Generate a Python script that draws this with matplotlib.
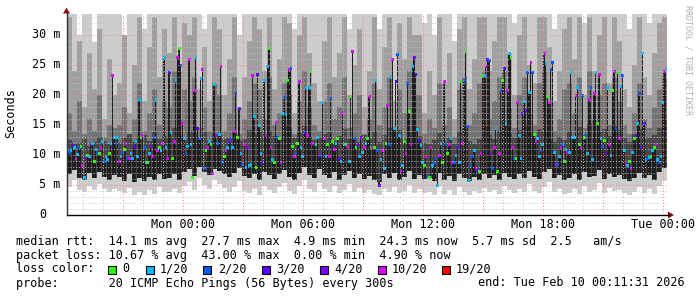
import numpy as np
from matplotlib import pyplot as plt
from matplotlib.patches import Rectangle, Polygon

# median rtt [ms], one value per 5 minute step (last 30 hours)
median_ms = [
    11.0, 10.5, 10.8, 11.7, 11.3, 9.2, 10.1, 11.2, 11.5, 8.3, 6.2, 9.5, 9.9, 9.8,
    11.7, 12.0, 9.0, 11.0, 10.2, 10.3, 11.3, 12.3, 8.9, 9.7, 9.2, 10.2, 11.9, 23.3,
    13.0, 12.0, 13.0, 9.0, 9.7, 10.4, 11.0, 12.0, 9.5, 9.5, 10.3, 9.4, 11.5, 12.3,
    9.7, 19.3, 13.0, 13.2, 11.2, 8.8, 8.7, 10.2, 11.5, 9.8, 13.0, 19.2, 10.8, 11.3,
    10.7, 12.0, 26.2, 11.3, 9.5, 23.7, 13.8, 9.5, 12.3, 22.5, 26.3, 27.7, 25.0, 15.3, 12.8,
    # Mon 00:00 - 06:00
    10.3, 11.5, 26.0, 11.7, 6.2, 20.8, 26.2, 14.5, 12.7, 22.7, 24.2, 7.7,
    10.7, 11.3, 12.3, 11.8, 7.0, 21.8, 13.3, 12.0, 13.5, 24.8, 8.7, 9.7,
    10.7, 11.3, 12.2, 12.8, 11.2, 14.0, 20.2, 13.0, 17.8, 10.2, 8.5, 11.7,
    8.0, 11.2, 8.3, 8.5, 23.2, 16.5, 8.0, 23.5, 15.0, 10.3, 8.8, 22.5,
    13.2, 24.7, 27.7, 11.3, 9.2, 8.8, 15.5, 13.0, 12.7, 8.8, 17.0, 19.7,
    16.8, 22.5, 24.2, 24.5, 11.5, 9.7, 10.3, 12.0, 22.3, 11.3, 9.8, 13.7,
    # Mon 06:00 - 12:00
    21.3, 13.3, 21.3, 24.0, 12.0, 11.7, 11.8, 13.0, 10.0, 10.0, 18.7, 12.8,
    9.8, 11.7, 9.7, 19.5, 12.2, 11.0, 12.0, 12.8, 9.5, 9.0, 17.0, 11.8,
    11.8, 11.5, 9.0, 19.8, 27.2, 12.8, 11.3, 11.7, 9.7, 13.0, 10.5, 11.3,
    12.0, 12.7, 19.8, 11.3, 11.3, 11.3, 22.5, 10.8, 4.9, 9.3, 10.7, 7.7,
    12.0, 18.3, 11.8, 23.0, 26.0, 14.5, 22.3, 26.8, 13.3, 7.2, 8.3, 12.3,
    10.3, 22.0, 17.2, 11.8, 24.8, 26.3, 23.5, 14.2, 12.5, 11.6, 8.7, 8.2,
    # Mon 12:00 - 18:00
    9.8, 6.5, 6.2, 11.3, 8.3, 8.8, 9.5, 5.0, 10.0, 12.0, 8.7, 22.3,
    11.8, 10.3, 11.7, 12.8, 8.7, 8.7, 10.0, 11.3, 8.7, 22.2, 12.0, 22.5,
    27.2, 14.8, 5.7, 8.2, 9.7, 10.8, 7.8, 7.5, 7.3, 10.3, 23.2, 23.2,
    24.7, 26.0, 25.8, 10.3, 7.7, 11.3, 14.5, 7.2, 10.2, 20.7, 22.5, 24.5,
    15.3, 20.7, 27.0, 26.3, 11.3, 9.5, 9.5, 18.7, 13.2, 9.5, 17.0, 19.0,
    17.5, 23.7, 20.5, 25.5, 23.7, 13.5, 12.3, 12.8, 9.8, 10.7, 11.7, 27.0,
    # Mon 18:00 - Tue 00:11
    25.2, 19.7, 18.8, 24.2, 25.5, 10.5, 8.2, 8.5, 9.8, 11.2, 11.8, 9.0, 10.9,
    10.5, 10.5, 23.7, 13.0, 13.0, 20.0, 21.3, 11.8, 11.2, 20.0, 13.0, 13.2,
    10.2, 19.2, 21.2, 9.3, 20.2, 23.8, 15.3, 23.5, 12.8, 11.5, 12.4, 10.3, 21.2,
    11.7, 10.0, 20.8, 24.0, 14.5, 23.8, 12.7, 21.5, 23.2, 10.7, 8.5, 8.2,
    9.0, 7.7, 10.5, 12.8, 13.3, 15.3, 20.2, 11.3, 27.0, 15.2, 9.2, 9.5, 9.6,
    9.7, 10.8, 11.2, 11.7, 9.3, 8.7, 9.8, 18.7, 24.0, 24.3,
]

# packet loss class per step: 0=0, 1=1/20, 2=2/20, 3=3/20, 4=4/20, 5=10/20
loss_idx = [
    1, 2, 1, 3, 1, 5, 1, 2, 0, 5, 1, 3, 0, 1,
    3, 1, 0, 1, 2, 0, 5, 1, 2, 1, 1, 0, 1, 5,
    1, 2, 1, 5, 1, 2, 0, 5, 2, 5, 1, 1, 3, 1,
    1, 1, 0, 5, 2, 1, 0, 1, 4, 5, 2, 1, 5, 0,
    1, 5, 1, 1, 5, 3, 1, 0, 5, 1, 5, 0, 2, 5, 1,
    2, 1, 5, 1, 0, 5, 1, 3, 2, 1, 5, 2,
    0, 5, 1, 0, 5, 1, 4, 2, 1, 5, 2, 0,
    5, 1, 3, 2, 1, 5, 2, 0, 3, 1, 2, 5,
    1, 4, 1, 1, 5, 1, 0, 3, 1, 1, 3, 1,
    5, 1, 0, 5, 1, 0, 5, 2, 0, 5, 1, 2,
    1, 0, 5, 2, 0, 5, 2, 0, 5, 1, 1, 3,
    1, 5, 1, 0, 5, 3, 0, 1, 4, 2, 1, 5,
    1, 0, 5, 2, 0, 5, 1, 0, 3, 1, 5, 1,
    0, 5, 1, 0, 5, 2, 0, 4, 1, 3, 1, 5,
    1, 0, 5, 0, 5, 0, 1, 2, 3, 1, 5, 1,
    0, 5, 2, 1, 5, 1, 3, 2, 1, 5, 1, 0,
    5, 2, 0, 5, 1, 4, 3, 1, 3, 1, 1, 0,
    5, 2, 0, 5, 1, 2, 2, 1, 5, 1, 0, 5,
    2, 0, 5, 1, 5, 2, 1, 3, 1, 0, 5, 2,
    0, 2, 1, 2, 2, 1, 5, 4, 0, 5, 0, 1,
    5, 3, 2, 4, 2, 5, 1, 0, 5, 2, 0, 3,
    1, 5, 1, 0, 5, 2, 0, 5, 1, 1, 3, 1,
    4, 2, 1, 5, 2, 0, 5, 1, 1, 2, 1, 5,
    1, 0, 5, 2, 2, 1, 5, 2, 1, 5, 2, 0, 1,
    5, 1, 1, 1, 1, 5, 1, 0, 5, 2, 0, 2,
    1, 5, 2, 1, 5, 1, 0, 5, 1, 2, 0, 3, 1,
    5, 1, 0, 5, 2, 0, 5, 1, 2, 1, 5, 1,
    0, 5, 1, 0, 3, 1, 2, 4, 1, 3, 1, 2, 1,
    0, 1, 0, 5, 1, 2, 1, 1, 5, 1,
]

# smoke, 15 minute columns [ms]: lowest ping, dark band, upper quartile, mid band top, highest ping
smoke_lo = [
    4.6, 5.8, 4.2, 3.9, 4.8, 4.1, 5.2, 4.4, 3.8, 4.3, 4.0, 3.6, 4.5, 3.4, 3.9, 3.3, 4.2, 3.5, 4.6, 3.8,
    3.9, 4.4, 3.6, 4.8, 5.5, 4.1, 6.2, 5.0, 4.3, 5.8, 5.2, 4.5, 3.9, 4.7, 5.6, 4.0, 3.6, 4.4, 3.4, 4.9,
    4.2, 3.7, 4.6, 5.3, 4.0, 3.5, 4.8, 5.9, 4.4, 3.9, 5.4, 4.3, 3.8, 4.9, 3.6, 4.2, 5.1, 3.9, 4.5, 3.7,
    4.1, 3.5, 3.3, 4.4, 3.8, 4.7, 3.6, 4.0, 5.0, 3.7, 4.3, 3.6, 3.9, 3.4, 4.8, 3.5, 4.1, 3.3, 4.6, 3.8,
    3.4, 4.0, 3.6, 4.5, 3.9, 4.2, 3.5, 4.8, 4.1, 3.7, 4.4, 3.9, 5.2, 4.0, 3.6, 4.7, 5.5, 3.8, 4.3, 3.5,
    3.7, 4.4, 3.5, 4.9, 3.8, 4.2, 5.3, 3.6, 4.5, 4.0, 4.1, 3.6, 3.4, 3.9, 4.6, 3.7, 4.3, 3.5, 4.8, 5.6,
]
smoke_dlo = [
    6.8, 7.5, 6.2, 5.9, 7.0, 6.1, 7.2, 6.4, 5.8, 6.6, 6.3, 5.7, 6.9, 5.5, 6.2, 5.6, 6.4, 5.9, 6.8, 6.0,
    6.2, 6.8, 5.9, 7.1, 7.6, 6.5, 8.0, 7.2, 6.6, 7.7, 7.4, 6.8, 6.3, 7.0, 7.9, 6.5, 6.1, 6.9, 5.8, 7.1,
    6.6, 6.0, 6.9, 7.5, 6.4, 5.9, 7.0, 8.0, 6.7, 6.2, 7.6, 6.7, 6.1, 7.2, 5.9, 6.6, 7.3, 6.2, 6.9, 6.0,
    6.5, 5.8, 5.5, 6.8, 6.1, 7.0, 5.9, 6.4, 7.3, 6.0, 6.7, 6.0, 6.2, 5.7, 7.0, 5.8, 6.5, 5.6, 6.9, 6.1,
    5.7, 6.3, 5.9, 6.8, 6.2, 6.6, 5.8, 7.0, 6.4, 6.0, 6.8, 6.2, 7.4, 6.4, 6.0, 7.1, 7.7, 6.1, 6.6, 5.9,
    6.1, 6.8, 5.8, 7.2, 6.3, 6.5, 7.5, 6.0, 6.9, 6.4, 6.6, 6.0, 5.7, 6.2, 7.0, 6.1, 6.7, 5.9, 7.1, 7.8,
]
smoke_dhi = [
    12.5, 11.8, 12.0, 12.6, 11.5, 12.2, 13.0, 12.4, 11.8, 12.8, 12.0, 12.8, 13.5, 12.2, 12.9, 13.3, 12.4, 13.8, 12.6, 13.1,
    13.0, 14.5, 13.2, 12.5, 14.0, 13.6, 12.8, 13.9, 12.4, 13.5, 13.4, 12.6, 12.9, 13.8, 12.3, 12.7, 14.2, 13.5, 14.0, 13.1,
    14.0, 13.2, 12.6, 15.0, 14.5, 12.9, 13.6, 14.8, 13.0, 12.5, 12.8, 13.5, 13.9, 12.4, 13.2, 14.4, 12.6, 13.0, 12.2, 13.4,
    12.6, 13.8, 12.1, 13.4, 14.5, 13.0, 14.2, 12.7, 13.9, 14.6, 13.2, 12.0, 11.8, 12.5, 13.6, 12.2, 12.9, 11.9, 13.8, 14.4,
    12.4, 11.9, 12.7, 14.8, 13.3, 12.6, 14.0, 15.2, 13.5, 12.8, 14.2, 15.0, 13.6, 12.8, 14.4, 13.9, 12.6, 12.2, 13.0, 12.5,
    13.8, 13.0, 14.6, 13.4, 15.2, 12.7, 13.9, 14.3, 13.1, 15.0, 14.1, 12.9, 12.2, 13.5, 14.3, 12.6, 12.9, 13.3, 14.5, 15.8,
]
smoke_q3 = [
    17, 14, 19, 13.5, 16, 14, 20, 13, 15, 14.5, 15, 18, 13.5, 16, 22, 14, 17, 21, 15, 19,
    18, 24, 16, 21, 19, 23, 14.5, 18, 14, 22, 20, 14, 17, 23, 13.5, 16, 19, 22, 21, 16,
    23, 15, 17, 22, 20, 13.5, 19, 24, 18, 15, 14, 19, 22, 16, 18, 23, 14.5, 17, 20, 13.5,
    16, 22, 15, 18, 23, 14, 21, 17, 24, 20, 20, 13.5, 16, 14.5, 22, 15, 18, 13, 21, 23,
    15, 17, 22, 24, 16, 19, 23, 24, 18, 14.5, 20, 23, 17, 15, 22, 24, 19, 14, 16, 21,
    22, 17, 23, 14.5, 24, 16, 20, 22, 15, 23, 19, 15, 13.5, 17, 22, 16, 14.5, 18, 21, 23,
]
smoke_mhi = [
    33, 24, 29, 18, 27, 21, 31, 16, 26, 20, 22, 30, 17, 25, 33, 19, 28, 33, 23, 31,
    27, 33, 24, 32, 30, 33, 21, 28, 19, 33, 31, 20, 26, 33, 18, 23, 29, 33, 31, 24,
    33, 21, 26, 33, 32, 17, 30, 33, 27, 22, 19, 29, 33, 23, 27, 33, 20, 25, 31, 18,
    24, 33, 21, 28, 33, 19, 32, 26, 33, 30, 30, 17, 24, 20, 33, 22, 27, 16, 31, 33,
    21, 26, 33, 33, 24, 29, 33, 33, 27, 20, 30, 33, 25, 22, 33, 33, 28, 19, 24, 31,
    33, 26, 33, 20, 33, 24, 30, 33, 22, 33, 29, 21, 18, 25, 33, 23, 20, 27, 32, 33,
]
smoke_hi = [
    36, 36, 30, 36, 36, 28.8, 36, 36, 36, 36, 36, 29, 36, 36, 36, 31, 36, 36, 36, 36,
    36, 36, 36, 36, 36, 36, 36, 31, 36, 36, 36, 36, 36, 36, 30, 36, 36, 36, 36, 36,
    36, 36, 36, 36, 36, 31, 36, 36, 36, 36, 36, 36, 36, 36, 36, 36, 31, 36, 36, 36,
    36, 36, 31, 36, 36, 36, 36, 36, 36, 36, 36, 32, 36, 30, 36, 36, 36, 29, 36, 36,
    36, 36, 36, 36, 36, 36, 36, 36, 36, 32, 36, 36, 36, 36, 36, 36, 36, 31, 36, 36,
    36, 36, 36, 32, 36, 36, 36, 36, 36, 36, 36, 36, 31, 36, 36, 36, 32, 36, 36, 36,
]

loss_labels = ['0', '1/20', '2/20', '3/20', '4/20', '10/20', '19/20']
loss_colors = ['#26ff00', '#00b8ff', '#0059ff', '#5e00ff', '#7e00ff', '#dd00ff', '#ff0000']
x_ticks = ['Mon 00:00', 'Mon 06:00', 'Mon 12:00', 'Mon 18:00', 'Tue 00:00']

W, H = 697, 297
MONO = 'DejaVu Sans Mono'
FS = 8.5

# time axis in hours relative to Mon 00:00, graph ends Tue 00:11:31
t_end = 24 + 11.5 / 60
t_start = t_end - 30

fig = plt.figure(figsize=(W / 100, H / 100), dpi=100)
fig.patch.set_facecolor('white')
ax = fig.add_axes([66.8 / W, 1 - 215 / H, 600 / W, 201 / H])
ax.set_xlim(t_start, t_end)
ax.set_ylim(0, 33.5)
ax.set_axis_off()

# smoke, light outside, darker towards the middle
lo = np.array(smoke_lo); dlo = np.array(smoke_dlo); q3 = np.array(smoke_q3)
dhi = np.array(smoke_dhi); mhi = np.array(smoke_mhi); hi = np.array(smoke_hi)
cw = 30 / len(lo)
xc = t_start + np.arange(len(lo)) * cw
kw = dict(width=cw, align='edge', linewidth=0, antialiased=False)
ax.bar(xc, hi - lo, bottom=lo, color='#cdcdcd', **kw)
ax.bar(xc, mhi - dlo, bottom=dlo, color='#a0a0a0', **kw)
ax.bar(xc, q3 - dlo, bottom=dlo, color='#747474', **kw)
ax.bar(xc, dhi - dlo, bottom=dlo, color='#484848', **kw)

# dark core from the dark band up to the median
med = np.array(median_ms)
n = len(med)
step = 5 / 60
xs = t_end - (n - np.arange(n)) * step
col = np.clip(((xs + step / 2 - t_start) / cw).astype(int), 0, len(lo) - 1)
core_lo = dlo[col]
ax.bar(xs, med - core_lo, bottom=core_lo, width=step * 0.75, align='edge',
       color='#1e1e1e', linewidth=0, antialiased=False)

# median marks coloured by loss
mcol = [loss_colors[i] for i in loss_idx[:n]]
ax.bar(xs - step * 0.3, 0.5, bottom=med - 0.25, width=step * 1.6, align='edge',
       color=mcol, linewidth=0, antialiased=False, zorder=4)

# grid on top
dot = (0, (1, 2))
for v in range(1, 34):
    if v % 5:
        ax.axhline(v, color='#c4c4c4', lw=0.7, ls=dot, zorder=5)
    else:
        ax.axhline(v, color='#ff8484', lw=0.7, ls=dot, zorder=6)
for h in range(-5, 25):
    if h % 3:
        ax.axvline(h, color='#c4c4c4', lw=0.7, ls=dot, zorder=5)
    else:
        ax.axvline(h, color='#ff8484', lw=0.7, ls=dot, zorder=6)

# y labels
ytr = ax.get_yaxis_transform()
for v in range(0, 31, 5):
    if v == 0:
        ax.text(-20.8 / 600, v, '0', transform=ytr, ha='right', va='center',
                family=MONO, fontsize=FS)
    else:
        ax.text(-6.8 / 600, v, '%d m' % v, transform=ytr, ha='right', va='center',
                family=MONO, fontsize=FS)

# x labels
xtr = ax.get_xaxis_transform()
for i, lab in enumerate(x_ticks):
    ax.text(i * 6, -9 / 201, lab, transform=xtr, ha='center', va='center',
            family=MONO, fontsize=FS)

# overlay in pixel coordinates for axes lines, arrows and legend
ov = fig.add_axes([0, 0, 1, 1], facecolor='none')
ov.set_xlim(0, W)
ov.set_ylim(H, 0)
ov.set_axis_off()

ov.plot([66.5, 669], [215, 215], color='black', lw=1)
ov.plot([66.5, 66.5], [215, 13], color='#303030', lw=1)
ov.add_patch(Polygon([[668, 211.5], [668, 218.5], [674, 215]], closed=True,
                     facecolor='#8b1010', edgecolor='none'))
ov.add_patch(Polygon([[63, 13.5], [70, 13.5], [66.5, 7.5]], closed=True,
                     facecolor='#8b1010', edgecolor='none'))

ov.text(11, 113, 'Seconds', rotation=90, ha='center', va='center',
        family=MONO, fontsize=FS)
ov.text(688, 5, 'RRDTOOL / TOBI OETIKER', rotation=270, ha='center', va='top',
        family=MONO, fontsize=6, color='#b0b0b0')

ov.text(16, 241, 'median rtt:  14.1 ms avg  27.7 ms max  4.9 ms min  24.3 ms now  5.7 ms sd  2.5   am/s',
        ha='left', va='center', family=MONO, fontsize=FS)
ov.text(16, 255, 'packet loss: 10.67 % avg  43.00 % max  0.00 % min  4.90 % now',
        ha='left', va='center', family=MONO, fontsize=FS)
ov.text(16, 269, 'loss color:', ha='left', va='center', family=MONO, fontsize=FS)
sq_x = [108, 146, 203, 262, 320, 378, 442]
lab_x = [122, 160, 218, 276, 334, 392, 456]
for i in range(len(loss_labels)):
    ov.add_patch(Rectangle((sq_x[i], 265.5), 8, 8, facecolor=loss_colors[i],
                           edgecolor='black', lw=0.8))
    ov.text(lab_x[i], 269, loss_labels[i], ha='left', va='center', family=MONO, fontsize=FS)
ov.text(16, 283, 'probe:       20 ICMP Echo Pings (56 Bytes) every 300s',
        ha='left', va='center', family=MONO, fontsize=FS)
ov.text(478, 283, 'end: Tue Feb 10 00:11:31 2026', ha='left', va='center',
        family=MONO, fontsize=FS)

fig.savefig('out.png', dpi=100, facecolor='white')
